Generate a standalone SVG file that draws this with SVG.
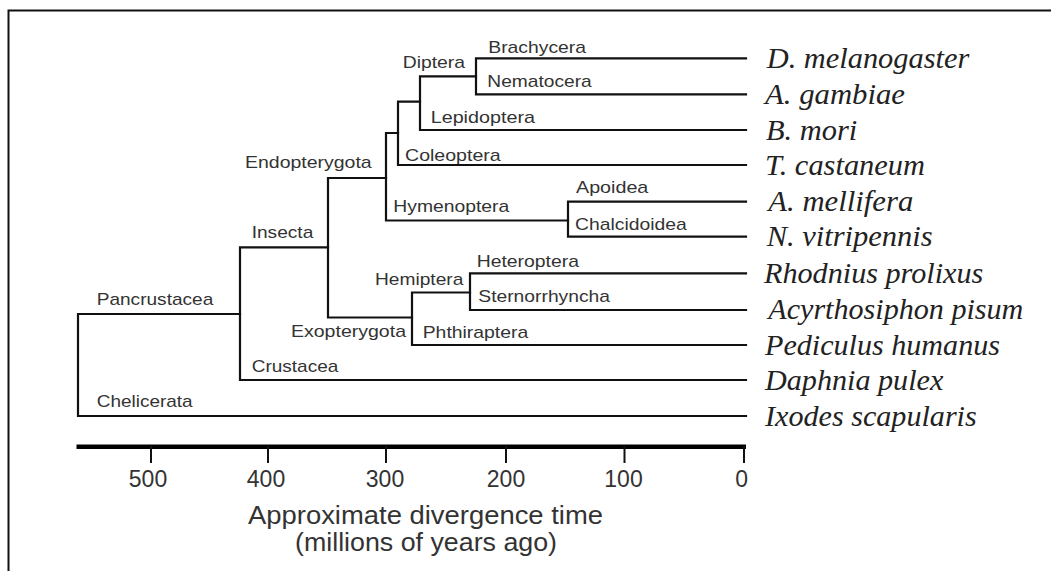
<svg xmlns="http://www.w3.org/2000/svg" width="1051" height="571" viewBox="0 0 1051 571">
<style>
.br{fill:none;stroke:#111;stroke-width:2.2;stroke-linecap:square}
.clade{font-family:"Liberation Sans",Arial,sans-serif;font-size:17px;fill:#333}
.sp{font-family:"Liberation Serif","Times New Roman",serif;font-style:italic;font-size:29px;fill:#222}
.ax{font-family:"Liberation Sans",Arial,sans-serif;font-size:23px;fill:#333;text-anchor:middle}
.axt{font-family:"Liberation Sans",Arial,sans-serif;font-size:25px;fill:#333}
</style>
<rect width="1051" height="571" fill="#fff"/>
<g id="frame" fill="none" stroke="#111" stroke-width="2">
<path d="M8.5 571 V10.5 H1051"/>
</g>
<g id="connectors" class="br">
<path d="M78 314 V416 M78 314 H240 M78 416 H746"/>
<path d="M240 247.3 V380 M240 247.3 H328 M240 380 H746"/>
<path d="M328 178 V317.5 M328 178 H386 M328 317.5 H412"/>
<path d="M386 133 V220.5 M386 133 H398 M386 220.5 H568"/>
<path d="M398 101.7 V165 M398 101.7 H420 M398 165 H746"/>
<path d="M420 76.3 V130 M420 76.3 H476 M420 130 H746"/>
<path d="M476 58.3 V94.3 M476 58.3 H746 M476 94.3 H746"/>
<path d="M568 201.7 V236.7 M568 201.7 H746 M568 236.7 H746"/>
<path d="M412 292.5 V345 M412 292.5 H470 M412 345 H746"/>
<path d="M470 273.3 V310 M470 273.3 H746 M470 310 H746"/>
</g>
<g id="clade-labels">
<g id="n-brachycera"><text class="clade" x="488.3" y="53.3" textLength="97.7" lengthAdjust="spacingAndGlyphs">Brachycera</text></g>
<g id="n-diptera"><text class="clade" x="402.7" y="68.3" textLength="62.3" lengthAdjust="spacingAndGlyphs">Diptera</text></g>
<g id="n-nematocera"><text class="clade" x="487.3" y="87.3" textLength="104.4" lengthAdjust="spacingAndGlyphs">Nematocera</text></g>
<g id="n-lepidoptera"><text class="clade" x="430.7" y="123.3" textLength="104.3" lengthAdjust="spacingAndGlyphs">Lepidoptera</text></g>
<g id="n-coleoptera"><text class="clade" x="405" y="160.7" textLength="95.7" lengthAdjust="spacingAndGlyphs">Coleoptera</text></g>
<g id="n-endopterygota"><text class="clade" x="245" y="168.3" textLength="126.7" lengthAdjust="spacingAndGlyphs">Endopterygota</text></g>
<g id="n-apoidea"><text class="clade" x="576" y="193.3" textLength="72.3" lengthAdjust="spacingAndGlyphs">Apoidea</text></g>
<g id="n-hymenoptera"><text class="clade" x="393.3" y="211.7" textLength="116" lengthAdjust="spacingAndGlyphs">Hymenoptera</text></g>
<g id="n-chalcidoidea"><text class="clade" x="575" y="230" textLength="111.7" lengthAdjust="spacingAndGlyphs">Chalcidoidea</text></g>
<g id="n-insecta"><text class="clade" x="251.7" y="238.3" textLength="61.6" lengthAdjust="spacingAndGlyphs">Insecta</text></g>
<g id="n-heteroptera"><text class="clade" x="476.7" y="266.7" textLength="102.3" lengthAdjust="spacingAndGlyphs">Heteroptera</text></g>
<g id="n-hemiptera"><text class="clade" x="375" y="285" textLength="88.3" lengthAdjust="spacingAndGlyphs">Hemiptera</text></g>
<g id="n-sternorrhyncha"><text class="clade" x="478.3" y="301.7" textLength="131.7" lengthAdjust="spacingAndGlyphs">Sternorrhyncha</text></g>
<g id="n-pancrustacea"><text class="clade" x="96.7" y="305" textLength="116.6" lengthAdjust="spacingAndGlyphs">Pancrustacea</text></g>
<g id="n-exopterygota"><text class="clade" x="291" y="336.7" textLength="115" lengthAdjust="spacingAndGlyphs">Exopterygota</text></g>
<g id="n-phthiraptera"><text class="clade" x="422.7" y="337.7" textLength="105.6" lengthAdjust="spacingAndGlyphs">Phthiraptera</text></g>
<g id="n-crustacea"><text class="clade" x="251.7" y="371.7" textLength="86.6" lengthAdjust="spacingAndGlyphs">Crustacea</text></g>
<g id="n-chelicerata"><text class="clade" x="96.7" y="406.7" textLength="96" lengthAdjust="spacingAndGlyphs">Chelicerata</text></g>
</g>
<g id="species">
<g id="s-dmel"><text class="sp" x="766.7" y="68" textLength="202.6" lengthAdjust="spacingAndGlyphs">D. melanogaster</text></g>
<g id="s-agam"><text class="sp" x="765" y="104" textLength="140" lengthAdjust="spacingAndGlyphs">A. gambiae</text></g>
<g id="s-bmor"><text class="sp" x="766" y="139.5" textLength="91.3" lengthAdjust="spacingAndGlyphs">B. mori</text></g>
<g id="s-tcas"><text class="sp" x="765" y="174.5" textLength="160" lengthAdjust="spacingAndGlyphs">T. castaneum</text></g>
<g id="s-amel"><text class="sp" x="768.3" y="211" textLength="145" lengthAdjust="spacingAndGlyphs">A. mellifera</text></g>
<g id="s-nvit"><text class="sp" x="766.7" y="246" textLength="166" lengthAdjust="spacingAndGlyphs">N. vitripennis</text></g>
<g id="s-rpro"><text class="sp" x="764" y="283" textLength="219.3" lengthAdjust="spacingAndGlyphs">Rhodnius prolixus</text></g>
<g id="s-apis"><text class="sp" x="768.3" y="319" textLength="255" lengthAdjust="spacingAndGlyphs">Acyrthosiphon pisum</text></g>
<g id="s-phum"><text class="sp" x="765" y="354.5" textLength="235" lengthAdjust="spacingAndGlyphs">Pediculus humanus</text></g>
<g id="s-dpul"><text class="sp" x="765" y="389.5" textLength="178.3" lengthAdjust="spacingAndGlyphs">Daphnia pulex</text></g>
<g id="s-isca"><text class="sp" x="765" y="425.5" textLength="211.7" lengthAdjust="spacingAndGlyphs">Ixodes scapularis</text></g>
</g>
<g id="axis">
<path d="M76.5 446.7 H746" stroke="#000" stroke-width="4.5" fill="none"/>
<path d="M151 446 V463 M268 446 V463 M386 446 V463 M506 446 V463 M624.5 446 V463 M744 446 V463" stroke="#111" stroke-width="2" fill="none"/>
<text class="ax" x="148" y="486.7">500</text>
<text class="ax" x="266" y="486.7">400</text>
<text class="ax" x="385" y="486.7">300</text>
<text class="ax" x="506" y="486.7">200</text>
<text class="ax" x="623.5" y="486.7">100</text>
<text class="ax" x="741.7" y="486.7">0</text>
<text class="axt" x="248" y="524" textLength="355" lengthAdjust="spacingAndGlyphs">Approximate divergence time</text>
<text class="axt" x="295" y="551" textLength="262" lengthAdjust="spacingAndGlyphs">(millions of years ago)</text>
</g>
</svg>
